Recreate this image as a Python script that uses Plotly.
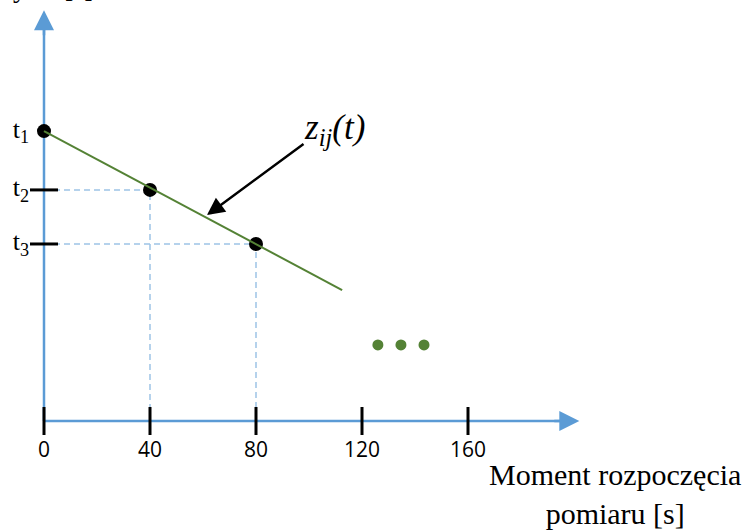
import plotly.graph_objects as go

# ---- data ----
x_ticks = [0, 40, 80, 120, 160]
x_tick_labels = ["0", "40", "80", "120", "160"]
t_values = [109.4, 87.2, 66.8]
t_labels = ["t<sub>1</sub>", "t<sub>2</sub>", "t<sub>3</sub>"]
point_x = [0, 40, 80]
line_x = [0, 112.5]
line_y = [109.4, 49.4]
ellipsis_x = [126.0, 134.7, 143.4]
ellipsis_y = [28.7, 28.7, 28.7]
x_axis_end = 202.0
y_axis_end = 155.0
x_title = "Moment rozpoczęcia<br>pomiaru [s]"
line_label = "<i>z<sub>ij</sub>(t)</i>"

AXIS_BLUE = "#5B9BD5"
DASH_BLUE = "#9DC3E6"
GREEN = "#548235"

fig = go.Figure()

# dashed guide lines for t2, t3
for px_, ty in zip(point_x[1:], t_values[1:]):
    fig.add_trace(go.Scatter(x=[0, px_, px_], y=[ty, ty, 0], mode="lines",
                             line=dict(color=DASH_BLUE, width=1.5, dash="6px,4px"),
                             hoverinfo="skip", showlegend=False))

# axes lines
fig.add_trace(go.Scatter(x=[0, x_axis_end - 6], y=[0, 0], mode="lines",
                         line=dict(color=AXIS_BLUE, width=2.5), showlegend=False, hoverinfo="skip"))
fig.add_trace(go.Scatter(x=[0, 0], y=[0, y_axis_end - 6], mode="lines",
                         line=dict(color=AXIS_BLUE, width=2.5), showlegend=False, hoverinfo="skip"))

# tick marks
fig.add_trace(go.Scatter(x=x_ticks, y=[0] * len(x_ticks), mode="markers",
                         marker=dict(symbol="line-ns", size=20, line=dict(color="black", width=3)),
                         showlegend=False, hoverinfo="skip"))
fig.add_trace(go.Scatter(x=[0] * len(t_values[1:]), y=t_values[1:], mode="markers",
                         marker=dict(symbol="line-ew", size=20, line=dict(color="black", width=3)),
                         showlegend=False, hoverinfo="skip"))

# points
fig.add_trace(go.Scatter(x=point_x, y=t_values, mode="markers",
                         marker=dict(color="black", size=14), showlegend=False, cliponaxis=False))
# fitted line
fig.add_trace(go.Scatter(x=line_x, y=line_y, mode="lines",
                         line=dict(color=GREEN, width=2), showlegend=False))
# ellipsis dots
fig.add_trace(go.Scatter(x=ellipsis_x, y=ellipsis_y, mode="markers",
                         marker=dict(color=GREEN, size=11), showlegend=False))

# tick labels
fig.add_trace(go.Scatter(x=x_ticks, y=[-11.7] * len(x_ticks), mode="text", text=x_tick_labels,
                         textposition="middle center",
                         textfont=dict(family="Open Sans", size=21, color="black"),
                         showlegend=False, hoverinfo="skip"))
fig.add_trace(go.Scatter(x=[-5.6] * len(t_values), y=t_values, mode="text", text=t_labels,
                         textposition="middle left",
                         textfont=dict(family="Liberation Serif", size=26, color="black"),
                         showlegend=False, hoverinfo="skip"))

annotations = [
    # axis arrowheads
    dict(x=x_axis_end, y=0, ax=x_axis_end - 10, ay=0, xref="x", yref="y", axref="x", ayref="y",
         text="", showarrow=True, arrowhead=2, arrowsize=1.6, arrowwidth=2.5, arrowcolor=AXIS_BLUE),
    dict(x=0, y=y_axis_end, ax=0, ay=y_axis_end - 10, xref="x", yref="y", axref="x", ayref="y",
         text="", showarrow=True, arrowhead=2, arrowsize=1.6, arrowwidth=2.5, arrowcolor=AXIS_BLUE),
    # z_ij arrow
    dict(x=61.5, y=77.7, ax=98.5, ay=104.9, xref="x", yref="y", axref="x", ayref="y",
         text="", showarrow=True, arrowhead=2, arrowsize=1.4, arrowwidth=2.5, arrowcolor="black"),
    dict(x=97.5, y=110.0, xref="x", yref="y", text=line_label, showarrow=False,
         xanchor="left", yanchor="middle",
         font=dict(family="Liberation Serif", size=35, color="black")),
    # x title
    dict(x=615 / 746, y=1 - 494 / 530, xref="paper", yref="paper", text=x_title, showarrow=False,
         xanchor="center", yanchor="middle",
         font=dict(family="Liberation Serif", size=30, color="black")),
    # cut-off y-axis title at the top
    dict(x=20 / 746, y=1.0, xref="paper", yref="paper", text="y", showarrow=False,
         xanchor="center", yanchor="bottom", yshift=-5,
         font=dict(family="Liberation Serif", size=28, color="black")),
    dict(x=79 / 746, y=1.0, xref="paper", yref="paper", text="[s]", showarrow=False,
         xanchor="center", yanchor="bottom", yshift=-5,
         font=dict(family="Liberation Serif", size=28, color="black")),
]

fig.update_layout(
    annotations=annotations,
    width=746, height=530,
    margin=dict(l=0, r=0, t=0, b=0),
    paper_bgcolor="white", plot_bgcolor="white",
    xaxis=dict(range=[-44 / 2.65, (746 - 44) / 2.65], visible=False, fixedrange=True),
    yaxis=dict(range=[-(530 - 421) / 2.65, 421 / 2.65], visible=False, fixedrange=True),
    showlegend=False,
)

fig.write_html("out.html", config={"displayModeBar": False},
               post_script="document.body.style.margin='0';document.body.style.overflow='hidden';")
